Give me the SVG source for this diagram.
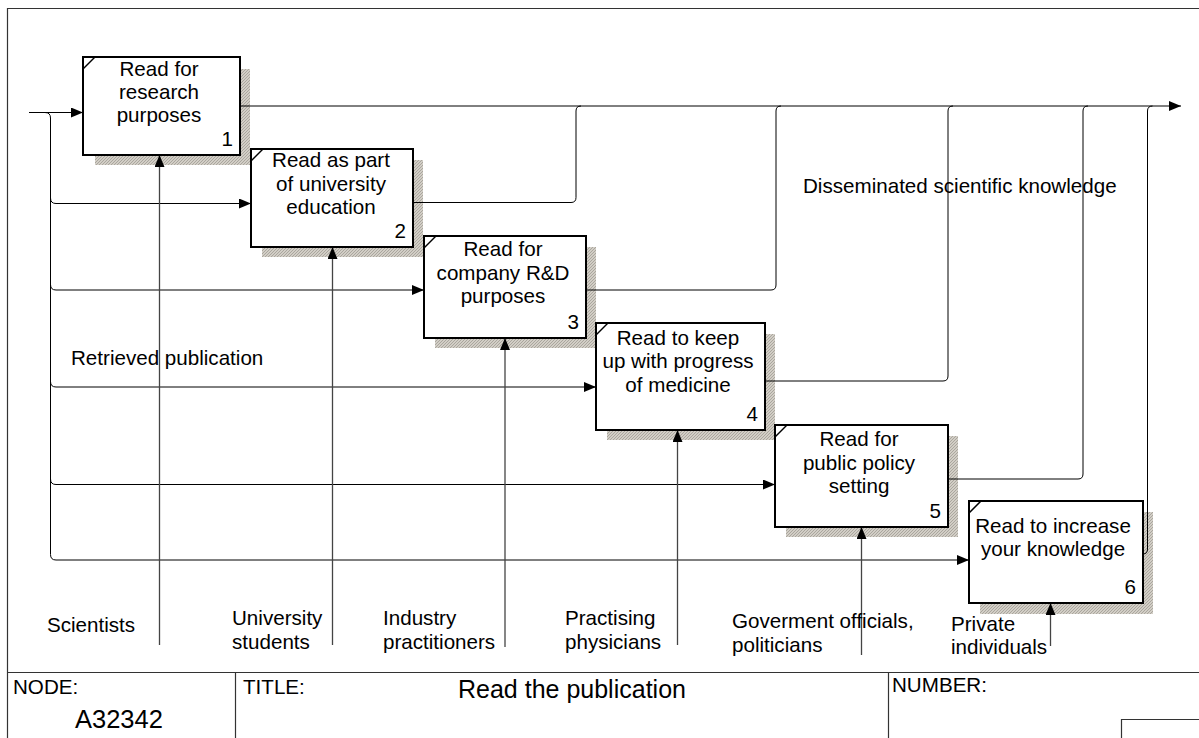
<svg xmlns="http://www.w3.org/2000/svg" width="1199" height="738" viewBox="0 0 1199 738">
<style>
text{font-family:"Liberation Sans",Arial,sans-serif;font-size:20.6px;fill:#000}
.c{text-anchor:middle}
.n{text-anchor:end}
.box{fill:#fff;stroke:#000;stroke-width:2}
.sh{fill:url(#hatch)}
.tick{stroke:#000;stroke-width:1.5;fill:none}
.ln{fill:none;stroke:#000;stroke-width:1}
.mech{fill:none;stroke:#444;stroke-width:1.3}
.frame{fill:none;stroke:#333;stroke-width:1.2}
</style>
<defs>
<pattern id="hatch" width="3" height="3" patternUnits="userSpaceOnUse">
<rect width="3" height="3" fill="#d2cec6"/>
<path d="M0,3 L3,0" stroke="#aaa69e" stroke-width="1"/>
</pattern>
<marker id="ar" markerUnits="userSpaceOnUse" markerWidth="12" markerHeight="10" refX="12" refY="5" orient="auto">
<path d="M0,0 L12,5 L0,10 z" fill="#000"/>
</marker>
</defs>
<rect width="1199" height="738" fill="#fff"/>
<g id="frame">
<path class="frame" d="M7.5,738 V8.5 H1199"/>
<path class="frame" d="M7.5,672.5 H1199"/>
<path class="frame" d="M235.5,672.5 V738"/>
<path class="frame" d="M888.5,672.5 V738"/>
<path class="frame" d="M1121.5,738 V719.5 H1199"/>
<text x="13" y="694">NODE:</text>
<text x="75" y="728" style="font-size:25.5px">A32342</text>
<text x="243" y="694">TITLE:</text>
<text x="458" y="698" style="font-size:25px">Read the publication</text>
<text x="892" y="692">NUMBER:</text>
</g>
<g id="shadows">
<rect class="sh" x="95" y="69" width="155" height="96"/>
<rect class="sh" x="262" y="160" width="161" height="97"/>
<rect class="sh" x="435" y="247" width="161" height="101"/>
<rect class="sh" x="607" y="334" width="168" height="106"/>
<rect class="sh" x="786" y="436" width="172" height="101"/>
<rect class="sh" x="980" y="512" width="173" height="102"/>
</g>
<g id="connectors">
<path class="ln" d="M29,112.5 H83" marker-end="url(#ar)"/>
<path class="ln" d="M45,112.5 Q50.5,112.5 50.5,118 V554.5 Q50.5,560 56,560 H969" marker-end="url(#ar)"/>
<path class="ln" d="M50.5,198 Q50.5,203.5 56,203.5 H251" marker-end="url(#ar)"/>
<path class="ln" d="M50.5,284.5 Q50.5,290 56,290 H424" marker-end="url(#ar)"/>
<path class="ln" d="M50.5,381.5 Q50.5,387 56,387 H596" marker-end="url(#ar)"/>
<path class="ln" d="M50.5,479 Q50.5,484.5 56,484.5 H775" marker-end="url(#ar)"/>
<path class="ln" d="M240,106 H1181" marker-end="url(#ar)"/>
<path class="ln" d="M413,202.5 H571 Q576,202.5 576,197.5 V111 Q576,106 581,106"/>
<path class="ln" d="M586,290 H771 Q776,290 776,285 V111 Q776,106 781,106"/>
<path class="ln" d="M765,381 H943 Q948,381 948,376 V111 Q948,106 953,106"/>
<path class="ln" d="M948,479 H1078 Q1083,479 1083,474 V111 Q1083,106 1088,106"/>
<path class="ln" d="M1143,554 Q1147.5,554 1147.5,549 V111 Q1147.5,106 1152.5,106"/>
<path class="mech" d="M159.5,645 V155" marker-end="url(#ar)"/>
<path class="mech" d="M332.5,645 V247" marker-end="url(#ar)"/>
<path class="mech" d="M505,647 V338" marker-end="url(#ar)"/>
<path class="mech" d="M677.5,645 V430" marker-end="url(#ar)"/>
<path class="mech" d="M861.5,655 V527" marker-end="url(#ar)"/>
<path class="mech" d="M1050.5,646 V603" marker-end="url(#ar)"/>
</g>
<g id="labels">
<text x="71" y="365">Retrieved publication</text>
<text x="803" y="193">Disseminated scientific knowledge</text>
<text x="47" y="632">Scientists</text>
<text x="232" y="625">University</text>
<text x="232" y="649">students</text>
<text x="383" y="625">Industry</text>
<text x="383" y="649">practitioners</text>
<text x="565" y="625">Practising</text>
<text x="565" y="649">physicians</text>
<text x="732" y="628">Goverment officials,</text>
<text x="732" y="652">politicians</text>
<text x="951" y="631">Private</text>
<text x="951" y="654">individuals</text>
</g>
<g id="node1">
<rect class="box" x="83" y="57" width="157" height="98"/>
<path class="tick" d="M83,69 L95,57"/>
<text class="c" x="159" y="76">Read for</text>
<text class="c" x="159" y="99">research</text>
<text class="c" x="159" y="122">purposes</text>
<text class="n" x="233" y="146">1</text>
</g>
<g id="node2">
<rect class="box" x="251" y="149" width="162" height="98"/>
<path class="tick" d="M251,161 L263,149"/>
<text class="c" x="331" y="167">Read as part</text>
<text class="c" x="331" y="191">of university</text>
<text class="c" x="331" y="214">education</text>
<text class="n" x="406" y="238">2</text>
</g>
<g id="node3">
<rect class="box" x="424" y="236" width="162" height="102"/>
<path class="tick" d="M424,248 L436,236"/>
<text class="c" x="503" y="256">Read for</text>
<text class="c" x="503" y="280">company R&amp;D</text>
<text class="c" x="503" y="303">purposes</text>
<text class="n" x="579" y="329">3</text>
</g>
<g id="node4">
<rect class="box" x="596" y="323" width="169" height="107"/>
<path class="tick" d="M596,335 L608,323"/>
<text class="c" x="678" y="345">Read to keep</text>
<text class="c" x="678" y="368">up with progress</text>
<text class="c" x="678" y="392">of medicine</text>
<text class="n" x="758" y="421">4</text>
</g>
<g id="node5">
<rect class="box" x="775" y="425" width="173" height="102"/>
<path class="tick" d="M775,437 L787,425"/>
<text class="c" x="859" y="446">Read for</text>
<text class="c" x="859" y="470">public policy</text>
<text class="c" x="859" y="493">setting</text>
<text class="n" x="941" y="518">5</text>
</g>
<g id="node6">
<rect class="box" x="969" y="501" width="174" height="102"/>
<path class="tick" d="M969,513 L981,501"/>
<text class="c" x="1053" y="533">Read to increase</text>
<text class="c" x="1053" y="556">your knowledge</text>
<text class="n" x="1136" y="594">6</text>
</g>
</svg>
